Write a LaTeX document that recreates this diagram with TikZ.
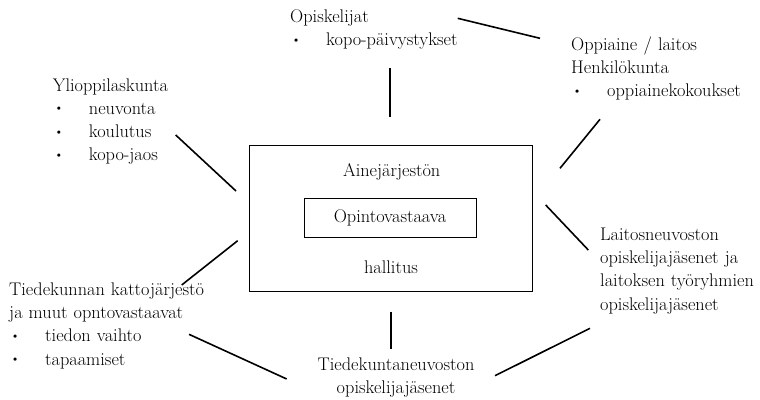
\documentclass[tikz,border=0pt]{standalone}
\usepackage{fontspec}
\usetikzlibrary{positioning}

\newcommand{\bul}[1]{\makebox[36pt][l]{\hspace{1.5pt}\raisebox{2.2pt}{\fontsize{12}{12}\selectfont\textbullet}}#1}

\begin{document}
\begin{tikzpicture}[x=1pt, y=-1pt, node distance=23.1pt,
  every node/.style={font=\fontsize{18.3}{23.1}\selectfont, inner sep=0pt},
  txt/.style={text width=260pt, align=left, text height=13pt, text depth=4pt},
  cen/.style={text height=13pt, text depth=4pt},
  frame/.style={draw, line width=0.8pt},
  link/.style={line width=1.6pt}]
\useasboundingbox (0,0) rectangle (760,399);

% centre: Ainejarjeston hallitus
\node (board) [frame, minimum width=283pt, minimum height=146pt] at (391.2,218.7) {};
\node (aine) [anchor=base] at (391.7,176.7) {Ainejärjestön};
\node (opvast) [frame, minimum width=172pt, minimum height=39pt] at (390,218) {Opintovastaava};
\node (hall) [anchor=base] at (391,273.3) {hallitus};

% groups round the box
\node (op1) [txt, anchor=west] at (290,18.2) {Opiskelijat};
\node (op2) [txt, below of = op1] {\bul{kopo-päivystykset}};

\node (yl1) [txt, anchor=west] at (52.7,86.5) {Ylioppilaskunta};
\node (yl2) [txt, below of = yl1] {\bul{neuvonta}};
\node (yl3) [txt, below of = yl2] {\bul{koulutus}};
\node (yl4) [txt, below of = yl3] {\bul{kopo-jaos}};

\node (oa1) [txt, anchor=west] at (571,46.2) {Oppiaine / laitos};
\node (oa2) [txt, below of = oa1] {Henkilökunta};
\node (oa3) [txt, below of = oa2] {\bul{oppiainekokoukset}};

\node (la1) [txt, anchor=west] at (600,236.2) {Laitosneuvoston};
\node (la2) [txt, below of = la1] {opiskelijajäsenet ja};
\node (la3) [txt, below of = la2] {laitoksen työryhmien};
\node (la4) [txt, below of = la3] {opiskelijajäsenet};

\node (tf1) [txt, anchor=west] at (9,291.2) {Tiedekunnan kattojärjestö};
\node (tf2) [txt, below of = tf1] {ja muut opntovastaavat};
\node (tf3) [txt, below of = tf2] {\bul{tiedon vaihto}};
\node (tf4) [txt, below of = tf3] {\bul{tapaamiset}};

\node (tk1) [cen] at (396,365.5) {Tiedekuntaneuvoston};
\node (tk2) [cen, below of = tk1] {opiskelijajäsenet};

% line ends
\coordinate (ylio-out) at (175.7,135);
\coordinate (board-ylio) at (236,191);
\coordinate (opisk-out) at (390,68);
\coordinate (board-opisk) at (390,117);
\coordinate (opisk-oa) at (457.7,18.3);
\coordinate (oa-opisk) at (540,38.3);
\coordinate (oa-out) at (600,119.3);
\coordinate (board-oa) at (560,168.3);
\coordinate (board-la) at (545.7,205);
\coordinate (la-board) at (588.3,250);
\coordinate (la-tk) at (590,328.3);
\coordinate (tk-la) at (495,375.7);
\coordinate (board-tk) at (391,311.7);
\coordinate (tk-board) at (391,349);
\coordinate (tf-tk) at (189,334.3);
\coordinate (tk-tf) at (286.7,379);
\coordinate (tf-board) at (181.7,285);
\coordinate (board-tf) at (237.7,240.7);

\draw[link] (ylio-out) -- (board-ylio);
\draw[link] (opisk-out) -- (board-opisk);
\draw[link] (opisk-oa) -- (oa-opisk);
\draw[link] (oa-out) -- (board-oa);
\draw[link] (board-la) -- (la-board);
\draw[link] (la-tk) -- (tk-la);
\draw[link] (board-tk) -- (tk-board);
\draw[link] (tf-tk) -- (tk-tf);
\draw[link] (tf-board) -- (board-tf);
\end{tikzpicture}
\end{document}
